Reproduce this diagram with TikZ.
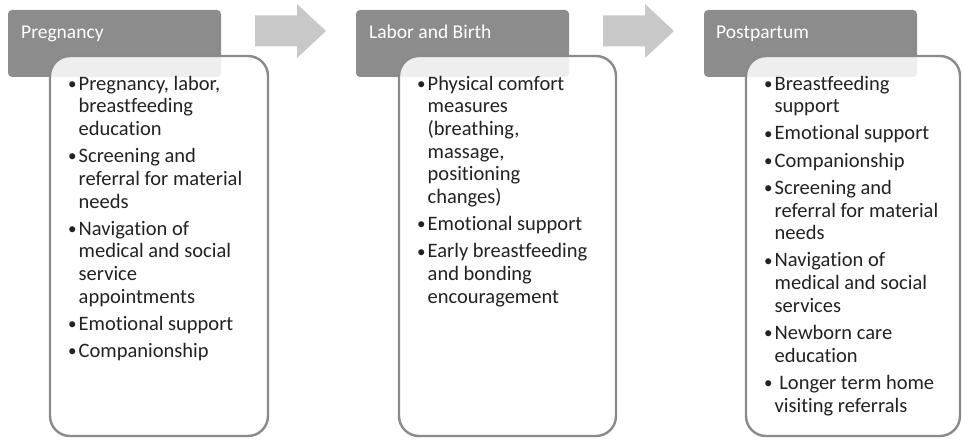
\documentclass[tikz,border=0pt]{standalone}
\usepackage{fontspec}
\setmainfont{Carlito}[Ligatures=NoCommon]
\usepackage{array}
\definecolor{headgray}{HTML}{8C8C8C}
\definecolor{arrowgray}{HTML}{C8C8C8}
\definecolor{framegray}{HTML}{8A8A8A}
\definecolor{ink}{HTML}{222222}
% bullet mark, slightly smaller than the text and set a little apart from it
\newcommand{\bl}{\hspace{-1pt}\raisebox{0.8pt}{\fontsize{17pt}{17pt}\selectfont\textbullet}}
\tikzset{
  stagehead/.style={fill=headgray, draw=none, rounded corners=4pt},
  stagebody/.style={fill=white, fill opacity=0.86, draw=framegray, draw opacity=1,
    line width=2.4pt, rounded corners=20pt},
  flowarrow/.style={fill=arrowgray, draw=none},
  headtext/.style={anchor=base west, inner sep=0pt, text=white,
    font=\fontsize{19.5pt}{22pt}\selectfont},
  bodytext/.style={anchor=north west, inner sep=0pt, text=ink, align=left,
    font=\fontsize{20.5pt}{22.7pt}\selectfont},
}
\begin{document}
\begin{tikzpicture}[x=1pt, y=-1pt]
\useasboundingbox (0,0) rectangle (962,441);

% block arrows between stages
\foreach \ax/\nm in {255/ar1, 603/ar2} {
  \coordinate (\nm) at (\ax,31);
  \fill[flowarrow] (\ax,15.5) -- ++(42,0) -- ++(0,-11.5) -- ++(29,27)
    -- ++(-29,27) -- ++(0,-11.5) -- ++(-42,0) -- cycle;
}

% stage headers
\foreach \hx/\nm in {8/h1, 356/h2, 704/h3} {
  \fill[stagehead] (\hx,10) rectangle ++(213,67);
  \coordinate (\nm) at (\hx,10);
}

% stage bodies (semi-transparent, overlapping the headers)
\draw[stagebody] (50,56) rectangle (268,436);
\draw[stagebody] (399,56) rectangle (616,436);
\draw[stagebody] (746,56) rectangle (960,436);

% header captions
\node[headtext] (t1) at (21,38.5) {Pregnancy};
\node[headtext] (t2) at (369,38.5) {Labor and Birth};
\node[headtext] (t3) at (716,38.5) {Postpartum};

% bullet lists
\node[bodytext] (b1) at (69,74) {%
\begin{tabular}{@{}p{9.5pt}@{}l@{}}
\bl & Pregnancy, labor,\\
    & breastfeeding\\
    & education\\[4.5pt]
\bl & Screening and\\
    & referral for material\\
    & needs\\[4.5pt]
\bl & Navigation of\\
    & medical and social\\
    & service\\
    & appointments\\[4.5pt]
\bl & Emotional support\\[4.5pt]
\bl & Companionship
\end{tabular}};

\node[bodytext] (b2) at (418,74) {%
\begin{tabular}{@{}p{9.5pt}@{}l@{}}
\bl & Physical comfort\\
    & measures\\
    & (breathing,\\
    & massage,\\
    & positioning\\
    & changes)\\[4.5pt]
\bl & Emotional support\\[4.5pt]
\bl & Early breastfeeding\\
    & and bonding\\
    & encouragement
\end{tabular}};

\node[bodytext] (b3) at (765,74) {%
\begin{tabular}{@{}p{9.5pt}@{}l@{}}
\bl & Breastfeeding\\
    & support\\[4.5pt]
\bl & Emotional support\\[4.5pt]
\bl & Companionship\\[4.5pt]
\bl & Screening and\\
    & referral for material\\
    & needs\\[4.5pt]
\bl & Navigation of\\
    & medical and social\\
    & services\\[4.5pt]
\bl & Newborn care\\
    & education\\[4.5pt]
\bl & \ Longer term home\\
    & visiting referrals
\end{tabular}};
\end{tikzpicture}
\end{document}
